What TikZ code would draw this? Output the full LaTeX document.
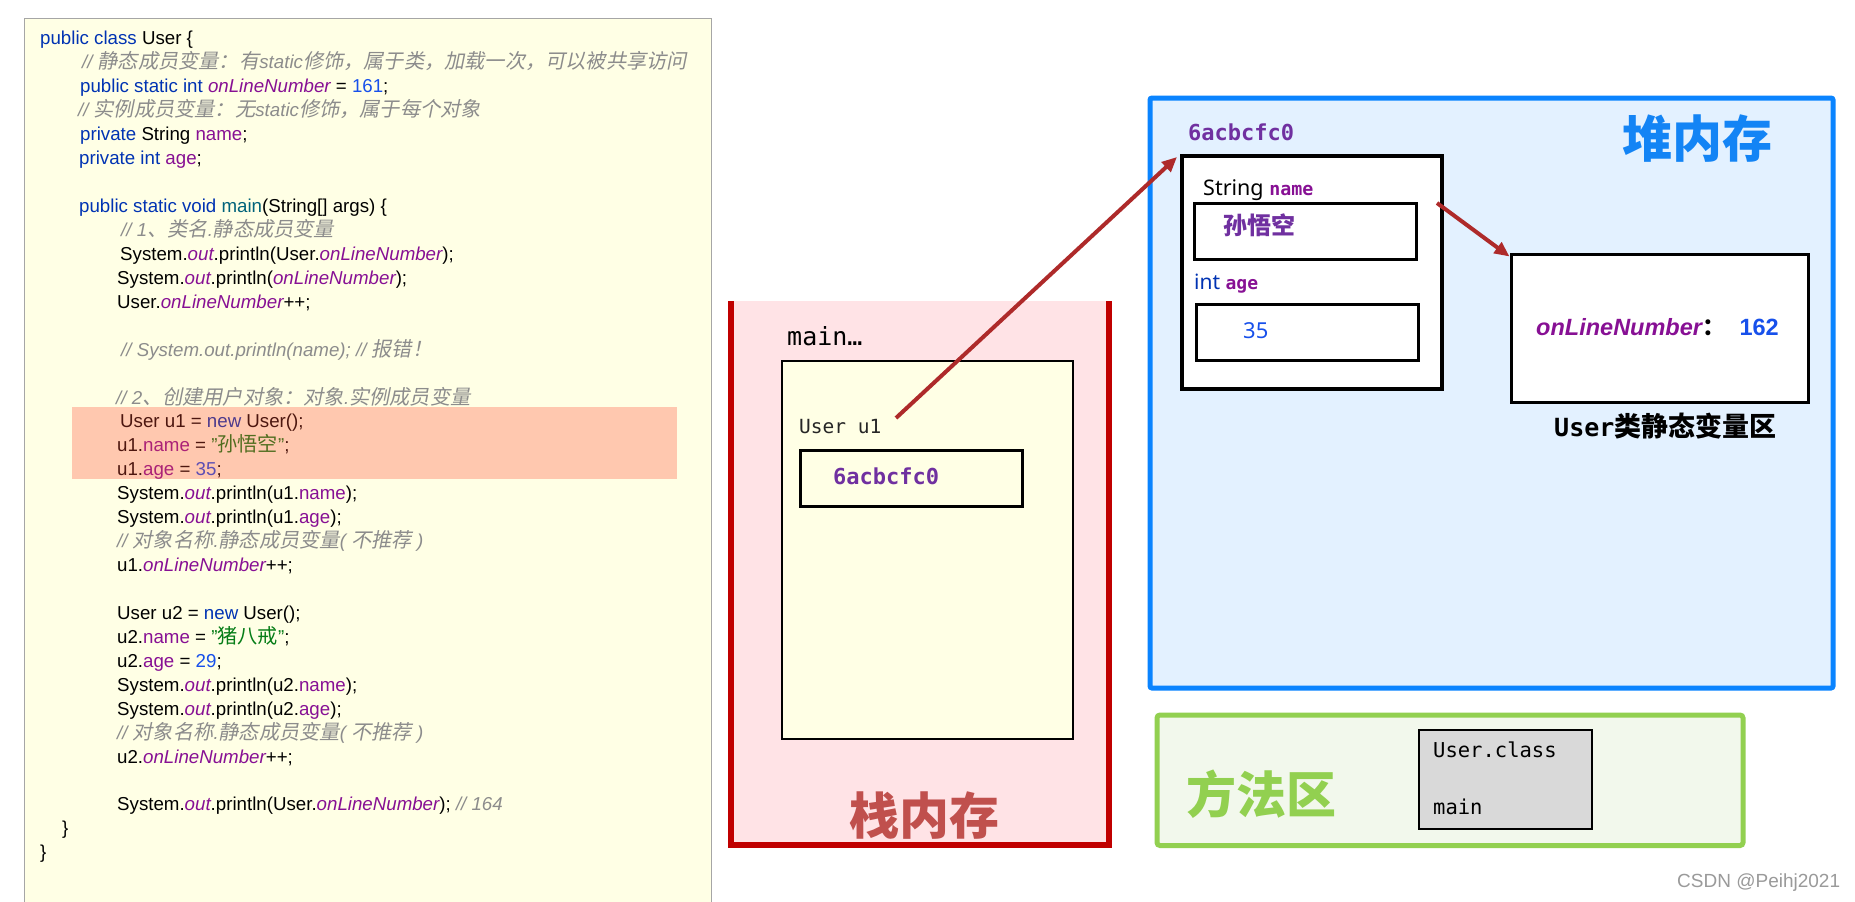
\documentclass[tikz,border=0pt]{standalone}
\usepackage{fontspec}
\setmainfont{Liberation Sans}
\newfontfamily\cjk{Noto Sans CJK SC}
\newfontfamily\cjki{Noto Sans CJK SC}[FakeSlant=0.2]
\newfontfamily\mono{DejaVu Sans Mono}
\newfontfamily\notos{Noto Sans}
\usetikzlibrary{arrows.meta}

\definecolor{codebg}{HTML}{FFFFE5}
\definecolor{codeedge}{HTML}{A6A6A6}
\definecolor{kwc}{HTML}{0033B3}
\definecolor{fldc}{HTML}{871094}
\definecolor{numc}{HTML}{1750EB}
\definecolor{strc}{HTML}{067D17}
\definecolor{mthc}{HTML}{00627A}
\definecolor{cmtc}{HTML}{8C8C8C}
\definecolor{hlc}{HTML}{FF4B34}
\definecolor{stackbg}{HTML}{FFE3E6}
\definecolor{stackedge}{HTML}{C00000}
\definecolor{stacktitle}{HTML}{C0504D}
\definecolor{heapbg}{HTML}{E3F1FF}
\definecolor{heapedge}{HTML}{0A84FF}
\definecolor{heaptitle}{HTML}{1384F5}
\definecolor{methbg}{HTML}{F2F8EC}
\definecolor{methedge}{HTML}{92D050}
\definecolor{graybox}{HTML}{D9D9D9}
\definecolor{addr}{HTML}{7030A0}
\definecolor{arrowc}{HTML}{AE2A2A}
\definecolor{wmc}{HTML}{9A9A9A}

\newcommand\jcf{\fontsize{18.7}{22}\selectfont}
\newcommand\jzh[1]{{\cjk\upshape\fontsize{20.2}{22}\selectfont #1}}
\newcommand\jzhi[1]{{\cjki\upshape\fontsize{20.2}{22}\selectfont #1}}
\newcommand\jkw[1]{\textcolor{kwc}{#1}}
\newcommand\jfld[1]{\textcolor{fldc}{#1}}
\newcommand\jsf[1]{\textcolor{fldc}{\itshape #1}}
\newcommand\jnum[1]{\textcolor{numc}{#1}}
\newcommand\jstr[1]{\textcolor{strc}{#1}}
\newcommand\jmth[1]{\textcolor{mthc}{#1}}
\newcommand\jcmt[1]{\textcolor{cmtc}{\itshape #1}}

\begin{document}
\begin{tikzpicture}[x=1pt,y=-1pt,
  code/.style={anchor=base west, inner sep=0pt, font=\jcf},
  lbl/.style={anchor=base west, inner sep=0pt},
  box/.style={draw=black, anchor=north west, inner sep=0pt},
  title/.style={anchor=base, inner sep=0pt, font=\cjk\bfseries\fontsize{50}{60}\selectfont},
  ref/.style={draw=arrowc, line width=4pt, -{Triangle[length=15pt,width=13pt]}}]
\useasboundingbox (0,0) rectangle (1855,902);
\fill[white] (0,0) rectangle (1855,902);

% ---------- code panel ----------
\node[draw=codeedge, line width=1pt, fill=codebg, anchor=north west, minimum width=687pt, minimum height=900pt, inner sep=0pt] (codebox) at (24,18) {};
\node[code] (l1) at (40,44.9) {\jkw{public class} User \{};
\node[code] (l2) at (82,68.84) {\jcmt{// \jzhi{静态成员变量：有}static\jzhi{修饰，属于类，加载一次，可以被共享访问}}};
\node[code] (l3) at (80,92.78) {\jkw{public static int} \jsf{onLineNumber} = \jnum{161};};
\node[code] (l4) at (78,116.72) {\jcmt{// \jzhi{实例成员变量：无}static\jzhi{修饰，属于每个对象}}};
\node[code] (l5) at (80,140.66) {\jkw{private} String \jfld{name};};
\node[code] (l6) at (79,164.6) {\jkw{private int} \jfld{age};};
\node[code] (l8) at (79,212.48) {\jkw{public static void} \jmth{main}(String[] args) \{};
\node[code] (l9) at (121,236.42) {\jcmt{// 1\jzhi{、类名}.\jzhi{静态成员变量}}};
\node[code] (l10) at (120,260.36) {System.\jsf{out}.println(User.\jsf{onLineNumber});};
\node[code] (l11) at (117,284.3) {System.\jsf{out}.println(\jsf{onLineNumber});};
\node[code] (l12) at (117,308.24) {User.\jsf{onLineNumber}++;};
\node[code] (l14) at (121,356.12) {\jcmt{// System.out.println(name); // \jzhi{报错！}}};
\node[code] (l16) at (116,404) {\jcmt{// 2\jzhi{、创建用户对象：对象}.\jzhi{实例成员变量}}};
\node[code] (l17) at (120,427.94) {User u1 = \jkw{new} User();};
\node[code] (l18) at (117,451.88) {u1.\jfld{name} = \jstr{"\jzh{孙悟空}"};};
\node[code] (l19) at (117,475.82) {u1.\jfld{age} = \jnum{35};};
\node[code] (l20) at (117,499.76) {System.\jsf{out}.println(u1.\jfld{name});};
\node[code] (l21) at (117,523.7) {System.\jsf{out}.println(u1.\jfld{age});};
\node[code] (l22) at (117,547.64) {\jcmt{// \jzhi{对象名称}.\jzhi{静态成员变量}( \jzhi{不推荐} )}};
\node[code] (l23) at (117,571.58) {u1.\jsf{onLineNumber}++;};
\node[code] (l25) at (117,619.46) {User u2 = \jkw{new} User();};
\node[code] (l26) at (117,643.4) {u2.\jfld{name} = \jstr{"\jzh{猪八戒}"};};
\node[code] (l27) at (117,667.34) {u2.\jfld{age} = \jnum{29};};
\node[code] (l28) at (117,691.28) {System.\jsf{out}.println(u2.\jfld{name});};
\node[code] (l29) at (117,715.22) {System.\jsf{out}.println(u2.\jfld{age});};
\node[code] (l30) at (117,739.16) {\jcmt{// \jzhi{对象名称}.\jzhi{静态成员变量}( \jzhi{不推荐} )}};
\node[code] (l31) at (117,763.1) {u2.\jsf{onLineNumber}++;};
\node[code] (l33) at (117,810.98) {System.\jsf{out}.println(User.\jsf{onLineNumber}); \jcmt{// 164}};
\node[code] (l34) at (62,834.92) {\}};
\node[code] (l35) at (40,858.86) {\}};
\node[fill=hlc, fill opacity=0.3, anchor=north west, minimum width=605pt, minimum height=72pt, inner sep=0pt] (hl) at (72,407) {};

% ---------- stack ----------
\node[fill=stackbg, anchor=north west, minimum width=378pt, minimum height=543.5pt, inner sep=0pt] (stack) at (731,301) {};
\draw[stackedge, line width=6pt] (stack.north west) -- (stack.south west) -- (stack.south east) -- (stack.north east);
\node[lbl, font=\mono\fontsize{25}{30}\selectfont] (mainlbl) at (787,345) {main…};
\node[box, line width=2pt, fill=codebg, minimum width=291pt, minimum height=378pt] (frame) at (780.5,360) {};
\node[lbl, font=\mono\fontsize{19.5}{24}\selectfont, text=black!85] (u1lbl) at (799,433) {User u1};
\node[box, line width=3pt, fill=codebg, minimum width=222pt, minimum height=56pt] (u1box) at (798.5,448.5) {};
\node[lbl, font=\mono\bfseries\fontsize{22}{26}\selectfont, text=addr] (u1val) at (833,484) {6acbcfc0};
\node[title, text=stacktitle] (stacktitle) at (924,834) {栈内存};

% ---------- heap ----------
\node[draw=heapedge, line width=5pt, fill=heapbg, rounded corners=2pt, anchor=north west, minimum width=683pt, minimum height=590pt, inner sep=0pt] (heap) at (1147.5,95.5) {};
\node[title, text=heaptitle] (heaptitle) at (1697,157) {堆内存};
\node[lbl, font=\mono\bfseries\fontsize{22}{26}\selectfont, text=addr] (objaddr) at (1188,140) {6acbcfc0};
\node[box, line width=3.5pt, fill=white, minimum width=260pt, minimum height=233pt] (obj) at (1180,154) {};
\node[lbl, font=\notos\fontsize{21.5}{26}\selectfont] (strlbl) at (1203,195) {String \textcolor{fldc}{\mono\bfseries\fontsize{18.3}{22}\selectfont name}};
\node[box, line width=3pt, fill=white, minimum width=222pt, minimum height=56pt] (namebox) at (1192.5,201.5) {};
\node[lbl, font=\cjk\bfseries\fontsize{24}{28}\selectfont, text=addr] (nameval) at (1223,234) {孙悟空};
\node[lbl, font=\notos\fontsize{21}{26}\selectfont, text=kwc] (agelbl) at (1194,289) {int \textcolor{fldc}{\mono\bfseries\fontsize{18}{22}\selectfont age}};
\node[box, line width=3pt, fill=white, minimum width=222pt, minimum height=56pt] (agebox) at (1194.5,302.5) {};
\node[lbl, font=\notos\fontsize{22}{26}\selectfont, text=numc] (ageval) at (1243,338) {35};
\node[box, line width=3.5pt, fill=white, minimum width=297pt, minimum height=148pt] (static) at (1509.5,252.5) {};
\node[lbl, font=\bfseries\fontsize{23.5}{28}\selectfont] (staticval) at (1536,335) {\textcolor{fldc}{\itshape onLineNumber}{\cjk ：}\hspace{14pt}\textcolor{numc}{162}};
\node[lbl] (staticlbl) at (1554,436) {{\mono\bfseries\fontsize{25}{30}\selectfont User}{\cjk\bfseries\fontsize{27}{30}\selectfont 类静态变量区}};

% ---------- method area ----------
\node[draw=methedge, line width=5pt, fill=methbg, rounded corners=3pt, anchor=north west, minimum width=586pt, minimum height=130.5pt, inner sep=0pt] (meth) at (1154.5,712.5) {};
\node[title, text=methedge] (methtitle) at (1261,813) {方法区};
\node[box, line width=2pt, fill=graybox, minimum width=173pt, minimum height=99pt] (cls) at (1418,729) {};
\node[lbl, font=\mono\fontsize{20.5}{24}\selectfont] (clsname) at (1433,757) {User.class};
\node[lbl, font=\mono\fontsize{20.5}{24}\selectfont] (clsmain) at (1433,814) {main};

% ---------- arrows ----------
\coordinate (a1s) at (896,418);
\draw[ref] (a1s) -- ([shift={(-3,3)}]obj.north west);
\coordinate (a2s) at (1437,203);
\draw[ref] (a2s) -- ([shift={(0,4)}]static.north west);

% ---------- watermark ----------
\node[lbl, font=\fontsize{19}{22}\selectfont, text=wmc] (wm) at (1677,887.5) {CSDN @Peihj2021};
\end{tikzpicture}
\end{document}
